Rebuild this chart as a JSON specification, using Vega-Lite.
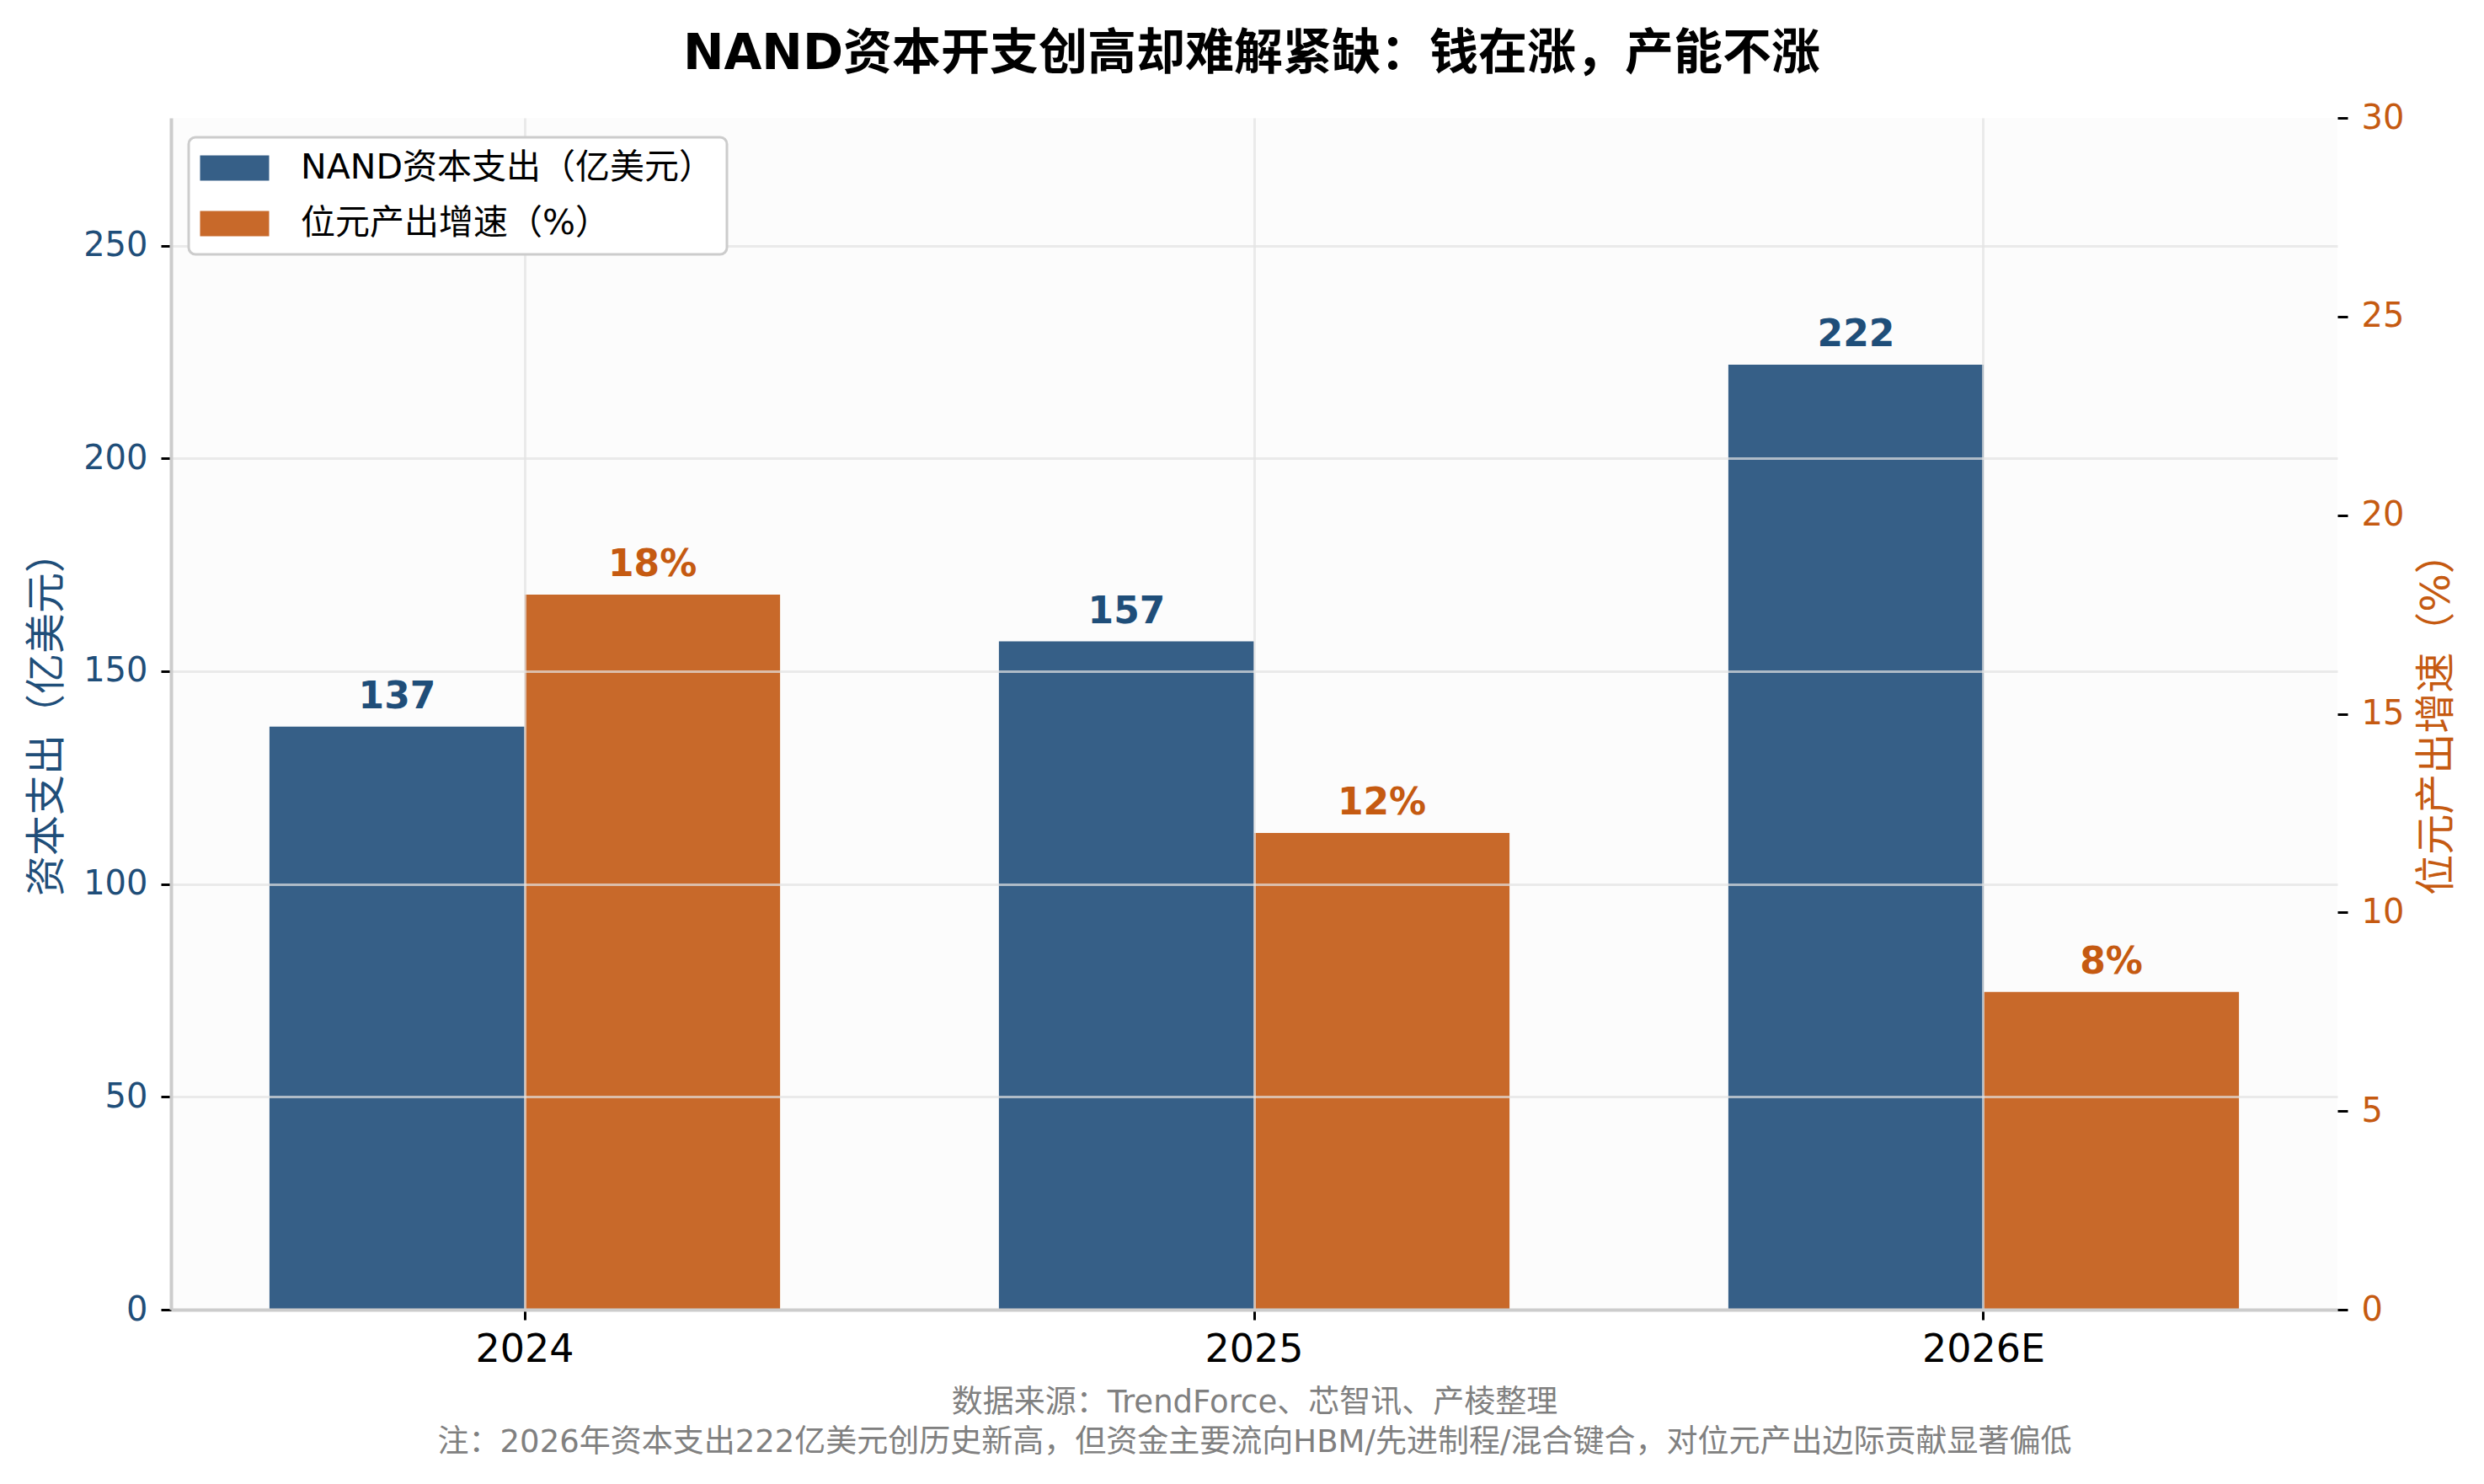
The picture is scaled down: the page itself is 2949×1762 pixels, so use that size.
{
  "$schema": "https://vega.github.io/schema/vega-lite/v6.json",
  "width": 2572,
  "height": 1415,
  "autosize": {"type": "none"},
  "padding": {"left": 203, "top": 140, "right": 174, "bottom": 207},
  "background": "white",
  "view": {"fill": "#fcfcfc", "stroke": null},
  "title": {
    "text": "NAND资本开支创高却难解紧缺：钱在涨，产能不涨",
    "font": "DejaVu Sans, Noto Sans CJK SC",
    "fontSize": 58,
    "fontWeight": "bold",
    "color": "black",
    "anchor": "middle",
    "dx": -3,
    "offset": 26
  },
  "data": {
    "values": [
      {"year": "2024", "series": "NAND资本支出（亿美元）", "capex": 137},
      {"year": "2025", "series": "NAND资本支出（亿美元）", "capex": 157},
      {"year": "2026E", "series": "NAND资本支出（亿美元）", "capex": 222},
      {"year": "2024", "series": "位元产出增速（%）", "growth": 18, "growth_text": "18%"},
      {"year": "2025", "series": "位元产出增速（%）", "growth": 12, "growth_text": "12%"},
      {"year": "2026E", "series": "位元产出增速（%）", "growth": 8, "growth_text": "8%"}
    ]
  },
  "encoding": {
    "x": {
      "field": "year",
      "type": "nominal",
      "sort": ["2024", "2025", "2026E"],
      "scale": {"paddingInner": 0.3, "paddingOuter": 0.135},
      "axis": {
        "zindex": 1,
        "labelAngle": 0,
        "labelFontSize": 46,
        "labelColor": "black",
        "labelPadding": 13,
        "bandPosition": 0.5,
        "grid": true,
        "title": [
          "数据来源：TrendForce、芯智讯、产棱整理",
          "注：2026年资本支出222亿美元创历史新高，但资金主要流向HBM/先进制程/混合键合，对位元产出边际贡献显著偏低"
        ],
        "titleFontSize": 37,
        "titleFontWeight": "normal",
        "titleColor": "#808080",
        "titleLineHeight": 47,
        "titlePadding": 22
      }
    },
    "xOffset": {
      "field": "series",
      "type": "nominal",
      "sort": ["NAND资本支出（亿美元）", "位元产出增速（%）"],
      "scale": {"paddingInner": 0, "paddingOuter": 0}
    }
  },
  "layer": [
    {
      "transform": [{"filter": "datum.capex != null"}],
      "encoding": {
        "y": {
          "field": "capex",
          "type": "quantitative",
          "scale": {"domain": [0, 280], "nice": false},
          "axis": {
            "zindex": 1,
            "orient": "left",
            "values": [0, 50, 100, 150, 200, 250],
            "title": "资本支出（亿美元）",
            "titleColor": "#1f4e79",
            "titleFontSize": 48,
            "titleFontWeight": "normal",
            "titlePadding": 18,
            "labelColor": "#1f4e79",
            "labelFontSize": 40,
            "labelPadding": 16
          }
        }
      },
      "layer": [
        {
          "mark": {"type": "bar"},
          "encoding": {
            "color": {
              "field": "series",
              "type": "nominal",
              "scale": {
                "domain": ["NAND资本支出（亿美元）", "位元产出增速（%）"],
                "range": ["#365f87", "#c8692a"]
              },
              "legend": {
                "orient": "none",
                "legendX": 21,
                "legendY": 23,
                "zindex": 2,
                "title": null,
                "symbolType": "M-2.05,-0.75H2.05V0.75H-2.05Z",
                "symbolSize": 1600,
                "symbolStrokeWidth": 0,
                "symbolOpacity": 1,
                "symbolOffset": 18,
                "labelFontSize": 41,
                "labelLimit": 0,
                "labelColor": "black",
                "labelOffset": 58,
                "rowPadding": 24,
                "padding": 16,
                "fillColor": "white",
                "strokeColor": "#cccccc",
                "cornerRadius": 8,
                "direction": "vertical"
              }
            }
          }
        },
        {
          "mark": {"type": "text", "baseline": "alphabetic", "dy": -22, "fontSize": 44, "fontWeight": "bold", "color": "#1f4e79"},
          "encoding": {"text": {"field": "capex", "type": "quantitative", "format": "d"}}
        }
      ]
    },
    {
      "transform": [{"filter": "datum.growth != null"}],
      "encoding": {
        "y": {
          "field": "growth",
          "type": "quantitative",
          "scale": {"domain": [0, 30], "nice": false},
          "axis": {
            "zindex": 1,
            "orient": "right",
            "values": [0, 5, 10, 15, 20, 25, 30],
            "domain": false,
            "title": "位元产出增速（%）",
            "titleAngle": 270,
            "titleColor": "#c55a11",
            "titleFontSize": 48,
            "titleFontWeight": "normal",
            "titlePadding": 64,
            "labelColor": "#c55a11",
            "labelFontSize": 40,
            "labelPadding": 16
          }
        }
      },
      "layer": [
        {
          "mark": {"type": "bar"},
          "encoding": {"color": {"field": "series", "type": "nominal"}}
        },
        {
          "mark": {"type": "text", "baseline": "alphabetic", "dy": -22, "fontSize": 44, "fontWeight": "bold", "color": "#c55a11"},
          "encoding": {"text": {"field": "growth_text", "type": "nominal"}}
        }
      ]
    }
  ],
  "resolve": {"scale": {"y": "independent"}},
  "config": {
    "font": "DejaVu Sans, Noto Sans CJK SC",
    "axis": {
      "zindex": 1,
      "gridColor": "#e2e2e2",
      "gridOpacity": 0.7,
      "gridWidth": 3,
      "tickColor": "black",
      "tickWidth": 3,
      "tickSize": 12,
      "domainColor": "#cccccc",
      "domainWidth": 4,
      "labelFont": "DejaVu Sans",
      "titleFont": "DejaVu Sans, Noto Sans CJK SC"
    },
    "legend": {"labelFont": "DejaVu Sans, Noto Sans CJK SC", "strokeWidth": 3}
  }
}
